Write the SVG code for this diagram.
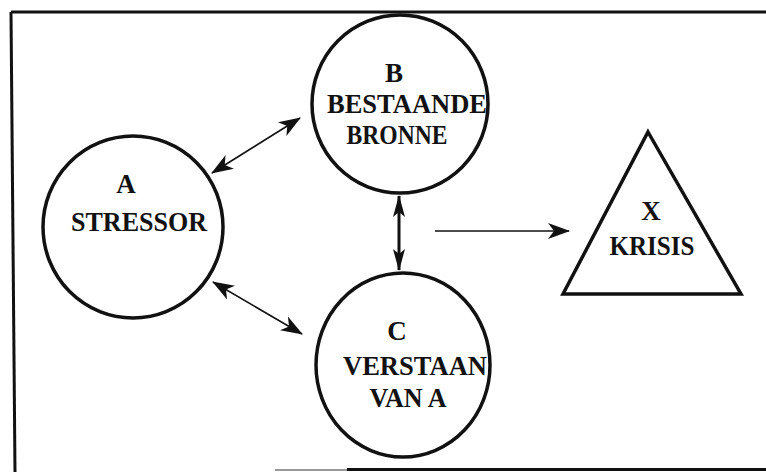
<svg xmlns="http://www.w3.org/2000/svg" width="766" height="472" viewBox="0 0 766 472">
<style>
.node{fill:none;stroke:#111;stroke-width:3.5}
.lbl{font-family:"Liberation Serif","Times New Roman",serif;font-weight:bold;font-size:27px;fill:#111;text-anchor:middle}
.conn{stroke:#111;fill:none}
.frame{stroke:#111;stroke-width:3;fill:none}
</style>
<defs>
<marker id="ah" viewBox="0 0 22 16" refX="21" refY="8" markerWidth="22" markerHeight="16" markerUnits="userSpaceOnUse" orient="auto-start-reverse">
<path d="M0,0 L22,8 L0,16 L6,8 z" fill="#111"/>
</marker>
<marker id="ahv" viewBox="0 0 22 12" refX="21" refY="6" markerWidth="22" markerHeight="12" markerUnits="userSpaceOnUse" orient="auto-start-reverse">
<path d="M0,0 L22,6 L0,12 L5,6 z" fill="#111"/>
</marker>
</defs>
<rect width="766" height="472" fill="#fff"/>
<g id="frame">
<path class="frame" d="M11,12 L766,12"/>
<path class="frame" d="M11,12 L15,472"/>
<path d="M275,470 L347,470" stroke="#999" stroke-width="2"/>
<path class="frame" d="M347,469.5 L766,469.5"/>
</g>
<g id="connectors">
<line class="conn" stroke-width="1.6" x1="212" y1="173" x2="300" y2="118" marker-start="url(#ah)" marker-end="url(#ah)"/>
<line class="conn" stroke-width="1.6" x1="213" y1="282" x2="302" y2="334" marker-start="url(#ah)" marker-end="url(#ah)"/>
<line class="conn" stroke-width="3" x1="399" y1="196" x2="399" y2="270" marker-start="url(#ahv)" marker-end="url(#ahv)"/>
<line class="conn" stroke-width="1.6" x1="435" y1="231" x2="569" y2="231" marker-end="url(#ah)"/>
</g>
<g id="nodeA">
<ellipse class="node" cx="133" cy="227" rx="90" ry="91"/>
<text class="lbl" x="126" y="193">A</text>
<text class="lbl" x="139" y="231" textLength="136" lengthAdjust="spacingAndGlyphs">STRESSOR</text>
</g>
<g id="nodeB">
<ellipse class="node" cx="400" cy="104" rx="88" ry="89"/>
<text class="lbl" x="394" y="82">B</text>
<text class="lbl" x="407" y="113" textLength="160" lengthAdjust="spacingAndGlyphs">BESTAANDE</text>
<text class="lbl" x="397" y="144" textLength="101" lengthAdjust="spacingAndGlyphs">BRONNE</text>
</g>
<g id="nodeC">
<ellipse class="node" cx="403" cy="365" rx="87" ry="92"/>
<text class="lbl" x="397" y="340">C</text>
<text class="lbl" x="415" y="375" textLength="144" lengthAdjust="spacingAndGlyphs">VERSTAAN</text>
<text class="lbl" x="408" y="407" textLength="77" lengthAdjust="spacingAndGlyphs">VAN A</text>
</g>
<g id="nodeX">
<polygon class="node" points="648,132 741,294 563,294" stroke-linejoin="miter"/>
<text class="lbl" x="651" y="220">X</text>
<text class="lbl" x="652" y="255" textLength="85" lengthAdjust="spacingAndGlyphs">KRISIS</text>
</g>
</svg>
